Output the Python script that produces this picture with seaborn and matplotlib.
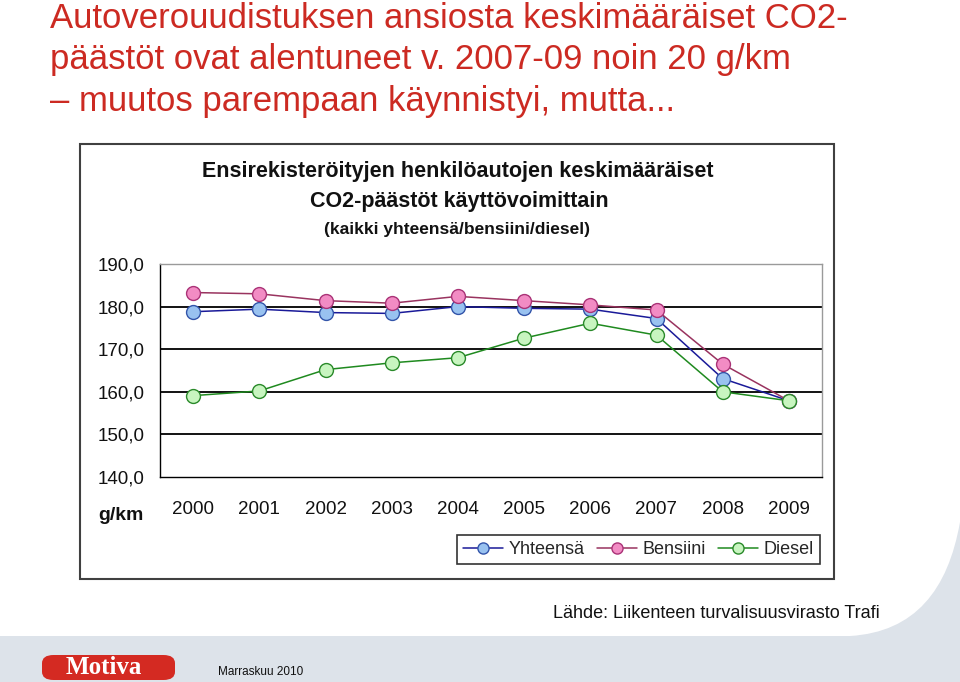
import matplotlib
matplotlib.use("Agg")
import matplotlib.pyplot as plt
import seaborn as sns
import pandas as pd
import numpy as np
from matplotlib.patches import Rectangle, FancyBboxPatch, PathPatch
from matplotlib.path import Path
from matplotlib.lines import Line2D

years = ["2000", "2001", "2002", "2003", "2004", "2005", "2006", "2007", "2008", "2009"]
yhteensa = [178.8, 179.4, 178.6, 178.4, 180.0, 179.6, 179.4, 177.2, 163.1, 157.9]
bensiini = [183.3, 183.0, 181.4, 180.8, 182.4, 181.4, 180.4, 179.2, 166.5, 157.9]
diesel = [159.1, 160.2, 165.2, 166.8, 168.0, 172.6, 176.1, 173.3, 160.0, 157.9]
series_names = ["Yhteensä", "Bensiini", "Diesel"]
y_ticks = [140, 150, 160, 170, 180, 190]
y_tick_labels = ["140,0", "150,0", "160,0", "170,0", "180,0", "190,0"]

slide_title_lines = ["Autoverouudistuksen ansiosta keskimääräiset CO2-",
                     "päästöt ovat alentuneet v. 2007-09 noin 20 g/km",
                     "– muutos parempaan käynnistyi, mutta..."]
chart_title1 = "Ensirekisteröityjen henkilöautojen keskimääräiset"
chart_title2 = "CO2-päästöt käyttövoimittain"
chart_title3 = "(kaikki yhteensä/bensiini/diesel)"
source_text = "Lähde: Liikenteen turvalisuusvirasto Trafi"
date_text = "Marraskuu 2010"

df = pd.DataFrame({
    "pos": list(range(len(years))) * 3,
    "value": yhteensa + bensiini + diesel,
    "series": sum([[s] * len(years) for s in series_names], []),
})

sns.set_style("white")
plt.rcParams["font.family"] = ["Liberation Sans", "DejaVu Sans"]

W, H = 960, 682
fig = plt.figure(figsize=(W / 100, H / 100), dpi=100)

def fx(x):
    return x / W

def fy(y):
    return 1 - y / H

# background shapes (grey band + right curve)
bg = "#dde3ea"
verts = [(fx(0), fy(636)), (fx(850), fy(636)),
         (fx(915), fy(632)), (fx(948), fy(590)), (fx(960), fy(522)),
         (fx(960), fy(682)), (fx(0), fy(682)), (fx(0), fy(636))]
codes = [Path.MOVETO, Path.LINETO, Path.CURVE4, Path.CURVE4, Path.CURVE4,
         Path.LINETO, Path.LINETO, Path.CLOSEPOLY]
fig.patches.append(PathPatch(Path(verts, codes), transform=fig.transFigure,
                             facecolor=bg, edgecolor="none", zorder=0))

# slide title
for i, line in enumerate(slide_title_lines):
    fig.text(fx(50), fy(28.5 + 41 * i), line, ha="left", va="baseline", fontsize=25,
             color="#cc2a22")

# chart box
fig.patches.append(Rectangle((fx(80), fy(579)), fx(754), 435 / H, transform=fig.transFigure,
                             facecolor="white", edgecolor="#404040", lw=1.5, zorder=1))

fig.text(fx(458), fy(172), chart_title1, ha="center", va="center", fontsize=15.5,
         fontweight="bold", color="#111111")
fig.text(fx(459), fy(202), chart_title2, ha="center", va="center", fontsize=15.5,
         fontweight="bold", color="#111111")
fig.text(fx(457), fy(230), chart_title3, ha="center", va="center", fontsize=12.5,
         fontweight="bold", color="#111111")

ax = fig.add_axes([fx(160), fy(477), fx(662), 213 / H])
ax.set_zorder(2)

styles = {
    "Yhteensä": dict(color="#1a1a99", mfc="#99c2f0", mec="#3355aa"),
    "Bensiini": dict(color="#99335f", mfc="#f28cc4", mec="#aa3377"),
    "Diesel": dict(color="#1f8a1f", mfc="#c8f5c0", mec="#2a8a2a"),
}
for s in series_names:
    st = styles[s]
    sub = df[df["series"] == s]
    sns.lineplot(data=sub, x="pos", y="value", ax=ax, color=st["color"], lw=1.1,
                 marker="o", markersize=10, markerfacecolor=st["mfc"],
                 markeredgecolor=st["mec"], markeredgewidth=1.0, label=s, legend=False)

ax.set_xlim(-0.5, len(years) - 0.5)
ax.set_ylim(140, 190)
ax.set_yticks(y_ticks)
ax.set_yticklabels(y_tick_labels)
ax.set_xticks(range(len(years)))
ax.set_xticklabels(years)
ax.set_xticks(np.arange(-0.5, len(years), 1.0), minor=True)
ax.tick_params(axis="x", which="major", length=0, pad=17, labelsize=13.5, labelcolor="#111111")
ax.tick_params(axis="x", which="minor", length=6, width=1, color="black", direction="out")
ax.tick_params(axis="y", length=5, width=1, color="black", direction="out", pad=6,
               labelsize=13.5, labelcolor="#111111")
ax.set_xlabel("")
ax.set_ylabel("")
for v in y_ticks[1:-1]:
    ax.axhline(v, color="black", lw=1.3, zorder=0)
ax.spines["left"].set_color("black")
ax.spines["bottom"].set_color("black")
ax.spines["top"].set_color("#9a9a9a")
ax.spines["right"].set_color("#9a9a9a")
for sp in ax.spines.values():
    sp.set_linewidth(1.0)

fig.text(fx(121), fy(515), "g/km", ha="center", va="center", fontsize=14,
         fontweight="bold", color="#111111")

handles = [Line2D([0], [0], color=styles[s]["color"], lw=1.1, marker="o", markersize=8,
                  markerfacecolor=styles[s]["mfc"], markeredgecolor=styles[s]["mec"])
           for s in series_names]
leg = fig.legend(handles, series_names, loc="center", bbox_to_anchor=(fx(638.5), fy(549.5)),
                 ncol=3, frameon=True, fontsize=13, handlelength=2.2, handletextpad=0.3,
                 columnspacing=0.7, borderpad=0.35, borderaxespad=0, fancybox=False)
leg.get_frame().set_edgecolor("black")
leg.get_frame().set_linewidth(1.2)
leg.set_zorder(5)

fig.text(fx(880), fy(613), source_text, ha="right", va="center", fontsize=13, color="#111111")

# Motiva logo
fig.patches.append(FancyBboxPatch((fx(42), fy(680)), fx(133), 25 / H,
                                  boxstyle="round,pad=0,rounding_size=0.012",
                                  transform=fig.transFigure, facecolor="#d42a22",
                                  edgecolor="none", zorder=2))
fig.text(fx(104), fy(667), "Motiva", ha="center", va="center", fontsize=18,
         fontweight="bold", family=["Liberation Serif", "DejaVu Serif"], color="white", zorder=3)
fig.text(fx(218), fy(672), date_text, ha="left", va="center", fontsize=8.5, color="#111111")

fig.savefig("out.png", dpi=100)
